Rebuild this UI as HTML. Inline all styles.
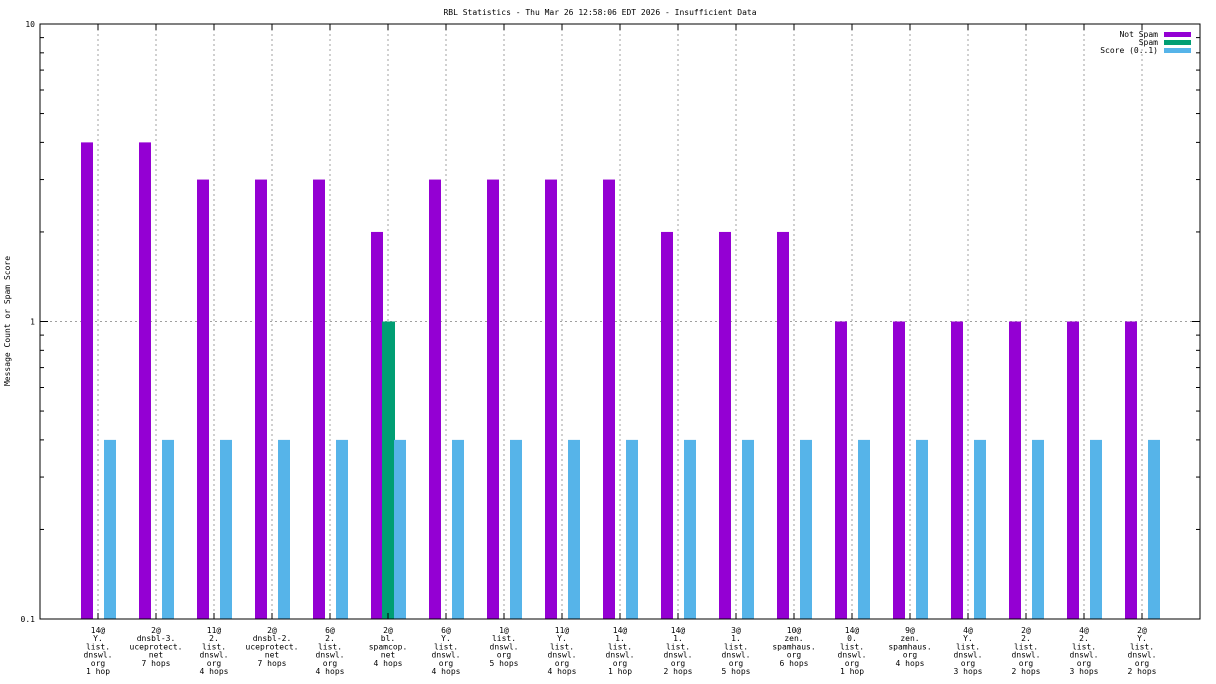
<!DOCTYPE html>
<html><head><meta charset="utf-8"><style>
body{margin:0;background:#fff}
svg{display:block;font-family:"DejaVu Sans Mono","Liberation Mono",monospace;font-size:8px}
</style></head><body>
<svg id="c" width="1216" height="684">
<text x="600" y="15" text-anchor="middle">RBL Statistics - Thu Mar 26 12:58:06 EDT 2026 - Insufficient Data</text>
<text transform="translate(10,321) rotate(-90)" text-anchor="middle">Message Count or Spam Score</text>
<g id="grid"></g><g id="bars"></g><g id="axes"></g>
<g>
<text x="1158" y="37" text-anchor="end">Not Spam</text>
<rect x="1164" y="32" width="27" height="5" fill="#9400d3"/>
<text x="1158" y="45" text-anchor="end">Spam</text>
<rect x="1164" y="40" width="27" height="5" fill="#009e73"/>
<text x="1158" y="53" text-anchor="end">Score (0..1)</text>
<rect x="1164" y="48" width="27" height="5" fill="#56b4e9"/>
</g>
</svg>
<script>
const categories=[["14@","Y.","list.","dnswl.","org","1 hop"],["2@","dnsbl-3.","uceprotect.","net","7 hops"],["11@","2.","list.","dnswl.","org","4 hops"],["2@","dnsbl-2.","uceprotect.","net","7 hops"],["6@","2.","list.","dnswl.","org","4 hops"],["2@","bl.","spamcop.","net","4 hops"],["6@","Y.","list.","dnswl.","org","4 hops"],["1@","list.","dnswl.","org","5 hops"],["11@","Y.","list.","dnswl.","org","4 hops"],["14@","1.","list.","dnswl.","org","1 hop"],["14@","1.","list.","dnswl.","org","2 hops"],["3@","1.","list.","dnswl.","org","5 hops"],["10@","zen.","spamhaus.","org","6 hops"],["14@","0.","list.","dnswl.","org","1 hop"],["9@","zen.","spamhaus.","org","4 hops"],["4@","Y.","list.","dnswl.","org","3 hops"],["2@","2.","list.","dnswl.","org","2 hops"],["4@","2.","list.","dnswl.","org","3 hops"],["2@","Y.","list.","dnswl.","org","2 hops"]];
const notSpam=[4,4,3,3,3,2,3,3,3,3,2,2,2,1,1,1,1,1,1];
const spam=[0,0,0,0,0,1,0,0,0,0,0,0,0,0,0,0,0,0,0];
const score=[0.4,0.4,0.4,0.4,0.4,0.4,0.4,0.4,0.4,0.4,0.4,0.4,0.4,0.4,0.4,0.4,0.4,0.4,0.4];
const yTicks=[0.1,1,10];
const yTickLabels=["0.1","1","10"];
const L=40,R=1200,T=24,B=619;
const NS="http://www.w3.org/2000/svg";
function y(v){return B-(Math.log10(v)+1)/2*(B-T);}
function x(i){return 98+i*58;}
function mk(g,t,a){const e=document.createElementNS(NS,t);for(const k in a)e.setAttribute(k,a[k]);document.getElementById(g).appendChild(e);return e;}
// grid
categories.forEach((c,i)=>{const l=mk('grid','line',{x1:x(i),x2:x(i),y1:T,y2:B,stroke:'#a0a0a0','stroke-dasharray':'2,3'});

});
const hg=mk('grid','line',{x1:L,x2:R,y1:y(1),y2:y(1),stroke:'#a0a0a0','stroke-dasharray':'2,3'});


// bars
function bar(v,x0,w,col,name){if(v<=0)return;const r=mk('bars','rect',{x:x0,y:y(v),width:w,height:B-y(v),fill:col});

}
categories.forEach((c,i)=>{const cx=x(i);
bar(notSpam[i],cx-17,12,'#9400d3','bar-not-spam');
bar(spam[i],cx-6,13,'#009e73','bar-spam');
bar(score[i],cx+6,12,'#56b4e9','bar-score');
const t=mk('axes','text',{x:cx,y:B+14,'text-anchor':'middle'});


c.forEach((s,j)=>{const ts=document.createElementNS(NS,'tspan');ts.setAttribute('x',cx);ts.setAttribute('dy',j?8.2:0);ts.textContent=s;t.appendChild(ts);});
mk('axes','line',{x1:cx,x2:cx,y1:B,y2:B-6,stroke:'#000'});
mk('axes','line',{x1:cx,x2:cx,y1:T,y2:T+6,stroke:'#000'});});
// axes frame
const fr=mk('axes','rect',{x:L,y:T,width:R-L,height:B-T,fill:'none',stroke:'#000'});


yTicks.forEach((v,i)=>{const t=mk('axes','text',{x:L-5,y:y(v)+3,'text-anchor':'end'});t.textContent=yTickLabels[i];


mk('axes','line',{x1:L,x2:L+8,y1:y(v),y2:y(v),stroke:'#000'});
mk('axes','line',{x1:R,x2:R-8,y1:y(v),y2:y(v),stroke:'#000'});
if(i<yTicks.length-1)for(let m=2;m<10;m++){const yy=y(v*m);
mk('axes','line',{x1:L,x2:L+4,y1:yy,y2:yy,stroke:'#000'});
mk('axes','line',{x1:R,x2:R-4,y1:yy,y2:yy,stroke:'#000'});}});
</script>
</body></html>
